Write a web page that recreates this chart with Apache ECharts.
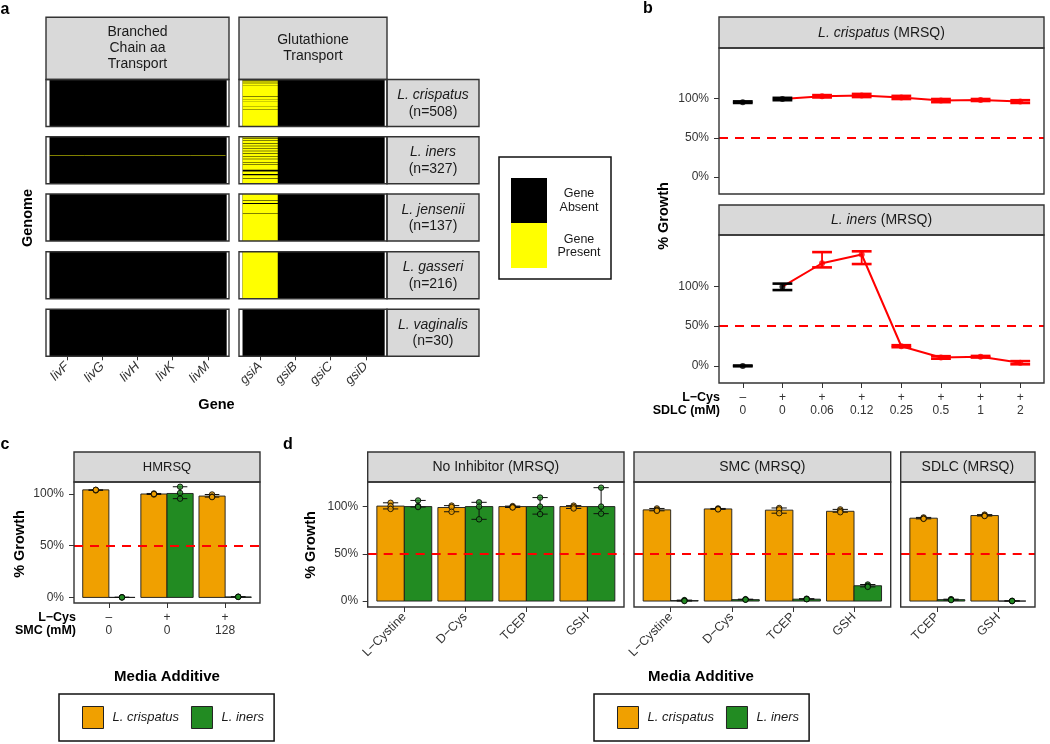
<!DOCTYPE html>
<html><head><meta charset="utf-8">
<script src="https://cdn.jsdelivr.net/npm/echarts@6/dist/echarts.min.js"></script>
<style>html,body{margin:0;padding:0;background:#fff}#c{width:1050px;height:744px}</style>
</head><body><div id="c"></div>
<script>
// ================= DATA =================
// ---- panel a : gene presence heatmap ----
const genes = ['livF','livG','livH','livK','livM','gsiA','gsiB','gsiC','gsiD'];
const geneGroupTitles = ['Branched\nChain aa\nTransport','Glutathione\nTransport'];
const geneGroupSizes = [5, 4];
const speciesNames = ['L. crispatus','L. iners','L. jensenii','L. gasseri','L. vaginalis'];
const speciesN = [508, 327, 137, 216, 30];
// genome index ranges [start, end) where the gene is present (all other genomes: absent)
const livPresentRuns = [[], [[128,129]], [], [], []];
const gsiAPresentRuns = [
  [[0,3],[7,13],[17,24],[28,36],[40,67],[71,183],[190,211],[214,234],[236,287],[289,324],[326,508]],
  [[0,10],[14,26],[30,45],[49,62],[66,78],[82,97],[101,114],[118,133],[137,152],[156,175],[179,192],[196,229],[241,258],[268,288],[291,327]],
  [[0,18],[20,26],[29,57],[58,137]],
  [[0,216]],
  []
];
const gsiBCDPresentRuns = [[], [], [], [], []];

// ---- panel b : SDLC dose response ----
const bLCysLabels = ['–','+','+','+','+','+','+','+'];
const bDoseLabels = ['0','0','0.06','0.12','0.25','0.5','1','2'];
const bPanelSpecies = ['L. crispatus','L. iners'];
const crispatusMean = [95.5, 99.5, 103, 104, 101.5, 97.5, 98.3, 96.2];
const crispatusLo   = [94.5, 98.0, 101.5, 102, 99.5, 95.5, 97.0, 94.5];
const crispatusHi   = [96.5, 101, 104.5, 106, 103.5, 99.5, 99.5, 98.0];
const inersMean = [0, 99.5, 129, 140, 24.7, 10.6, 11.5, 4];
const inersLo   = [-0.5, 95.3, 123.8, 128, 23.5, 9.0, 10.5, 2.0];
const inersHi   = [0.5, 103.4, 143, 144, 26.0, 12.2, 12.5, 6.0];

// ---- panel c : HMRSQ ----
const cLCysLabels = ['–','+','+'];
const cSMCLabels = ['0','0','128'];
const cCrispMean = [104, 100, 98];
const cCrispReps = [[104, 103.5, 104], [100.5, 99.5, 100], [99.5, 97.5, 97]];
const cInersMean = [0, 100.5, 0.5];
const cInersReps = [[0, 0.2, 0], [107, 101, 95.5], [0.5, 0.7, 0.5]];

// ---- panel d : media additives ----
const dPanelTitles = ['No Inhibitor (MRSQ)','SMC (MRSQ)','SDLC (MRSQ)'];
const dAdditives = [['L−Cystine','D−Cys','TCEP','GSH'], ['L−Cystine','D−Cys','TCEP','GSH'], ['TCEP','GSH']];
const dCrispMean = [[100.5, 99, 100, 100], [96.5, 97.5, 96.2, 95], [87.7, 90.5]];
const dCrispReps = [
  [[104, 100.5, 97.5], [101, 99.5, 94.5], [100.5, 99.5, 99], [101, 99.5, 98]],
  [[98, 96.5, 95.5], [98, 97.5, 97], [98.5, 97, 93], [97, 95.5, 94]],
  [[88.5, 87.5, 87], [91.5, 90.5, 90]]
];
const dInersMean = [[100, 100, 100, 100], [0.5, 1.5, 2, 16.2], [1.5, 0]];
const dInersReps = [
  [[106.5, 100.5, 99.5], [104.5, 100, 86.5], [109.5, 100, 92], [120, 100, 92.5]],
  [[1, 0.5, 0], [2, 1.5, 1.5], [2.5, 2, 2], [17.5, 16, 15]],
  [[2, 1.5, 1], [0, 0.3, 0]]
];
const legendNames = ['L. crispatus','L. iners'];

// ================= STYLE / LAYOUT =================
const FONT = '"Liberation Sans", Arial, Helvetica, sans-serif';
const ORANGE = '#F0A000', GREEN = '#228B22', RED = '#FF0000', YELLOW = '#FFFF00';
const BORDER = '#333333', STRIPFILL = '#D9D9D9', AXTXT = '#333333';

const A_COLS = [{left: 46, width: 183}, {left: 239, width: 148}];
const A_ROW_TOPS = [79.5, 136.8, 194, 251.7, 309.3];
const A_ROW_H = 47;
const A_STRIP = {top: 17.3, height: 62.2};
const A_SPECIES_STRIP = {left: 387, width: 92};
const B_GRIDS = [{left: 719, top: 48, width: 325, height: 146}, {left: 719, top: 235, width: 325, height: 148}];
const B_STRIPS = [{top: 17, height: 31}, {top: 205, height: 30}];
const C_GRID = {left: 74, top: 482, width: 186, height: 121};
const D_GRIDS = [{left: 367.7, top: 482, width: 256.3, height: 125}, {left: 634, top: 482, width: 256.7, height: 125}, {left: 900.7, top: 482, width: 134.3, height: 125}];
const CD_STRIP = {top: 452, height: 30};

const grids = [], xAxes = [], yAxes = [], series = [], graphics = [];

function addGrid(r) {
  grids.push({left: r.left, top: r.top, width: r.width, height: r.height, show: false, containLabel: false, outerBoundsMode: 'none'});
  return grids.length - 1;
}
function frame(r) {
  graphics.push({type: 'rect', z: 100, silent: true, shape: {x: r.left, y: r.top, width: r.width, height: r.height},
    style: {fill: 'rgba(0,0,0,0)', stroke: BORDER, lineWidth: 1.4}});
}
function stripBox(x, y, w, h) {
  graphics.push({type: 'rect', z: 90, silent: true, shape: {x: x, y: y, width: w, height: h},
    style: {fill: STRIPFILL, stroke: BORDER, lineWidth: 1.4}});
}
function text(x, y, str, opt) {
  opt = opt || {};
  const st = Object.assign({text: str, fontFamily: FONT, fontSize: 14, fill: '#1A1A1A',
    align: opt.align || 'center', textAlign: opt.align || 'center', verticalAlign: 'middle', textVerticalAlign: 'middle'}, opt.style || {});
  graphics.push({type: 'text', z: 110, silent: true, x: x, y: y, rotation: opt.rotation || 0, style: st});
}
function positions(n) { const a = []; for (let i = 1; i <= n; i++) a.push(i); return a; }
const tickStyle = {lineStyle: {color: BORDER, width: 1}};

// ================= PANEL a =================
function tileRender(params, api) {
  const x = api.value(0), y0 = api.value(1), y1 = api.value(2), present = api.value(3);
  const p0 = api.coord([x - 0.5, y0]), p1 = api.coord([x + 0.5, y1]);
  let h = Math.abs(p1[1] - p0[1]);
  let top = Math.min(p0[1], p1[1]);
  if (present && h < 0.5) { top -= (0.5 - h) / 2; h = 0.5; }
  const w = p1[0] - p0[0];
  return {type: 'rect', shape: {x: p0[0], y: top, width: present ? w : w + 1.2, height: h},
    style: present ? {fill: YELLOW} : {fill: '#000000'}};
}
function presenceRuns(s, gene) {
  if (gene.indexOf('liv') === 0) return livPresentRuns[s];
  if (gene === 'gsiA') return gsiAPresentRuns[s];
  return gsiBCDPresentRuns[s];
}
let geneOffset = 0;
geneGroupSizes.forEach((size, g) => {
  const off = geneOffset;
  speciesNames.forEach((sp, s) => {
    const r = {left: A_COLS[g].left, top: A_ROW_TOPS[s], width: A_COLS[g].width, height: A_ROW_H};
    const gi = addGrid(r);
    const isBottom = s === speciesNames.length - 1;
    xAxes.push({type: 'value', gridIndex: gi, min: 0.4, max: size + 0.6,
      axisLine: {show: false, onZero: false}, splitLine: {show: false},
      axisTick: Object.assign({show: isBottom, customValues: positions(size), length: 4}, tickStyle),
      axisLabel: {show: isBottom, customValues: positions(size), formatter: v => genes[off + Math.round(v) - 1],
        rotate: 45, fontStyle: 'italic', fontSize: 13, color: AXTXT, margin: 8, fontFamily: FONT}});
    yAxes.push({type: 'value', gridIndex: gi, min: 0, max: speciesN[s], inverse: true, show: false});
    const items = [];
    for (let j = size - 1; j >= 0; j--) {
      items.push([j + 1, 0, speciesN[s], 0]);
    }
    for (let j = 0; j < size; j++) {
      presenceRuns(s, genes[off + j]).forEach(run => items.push([j + 1, run[0], run[1], 1]));
    }
    series.push({type: 'custom', xAxisIndex: gi, yAxisIndex: gi, silent: true, renderItem: tileRender,
      encode: {x: 0, y: [1, 2]}, data: items});
    frame(r);
    if (g === geneGroupSizes.length - 1) {
      stripBox(A_SPECIES_STRIP.left, r.top, A_SPECIES_STRIP.width, r.height);
      text(A_SPECIES_STRIP.left + A_SPECIES_STRIP.width / 2, r.top + r.height / 2 + 0.5,
        '{i|' + sp + '}\n{n|(n=' + speciesN[s] + ')}',
        {style: {rich: {i: {fontStyle: 'italic', fontSize: 14, fontFamily: FONT, fill: '#1A1A1A', lineHeight: 16.5},
                        n: {fontSize: 14, fontFamily: FONT, fill: '#1A1A1A', lineHeight: 16.5}}}});
    }
  });
  stripBox(A_COLS[g].left, A_STRIP.top, A_COLS[g].width, A_STRIP.height);
  text(A_COLS[g].left + A_COLS[g].width / 2, A_STRIP.top + A_STRIP.height / 2, geneGroupTitles[g], {style: {lineHeight: 16}});
  geneOffset += size;
});
text(28, 218, 'Genome', {rotation: Math.PI / 2, style: {fontWeight: 'bold', fontSize: 14.5, fill: '#000'}});
text(216.5, 405, 'Gene', {style: {fontWeight: 'bold', fontSize: 14.5, fill: '#000'}});
// legend of panel a
graphics.push({type: 'rect', z: 100, silent: true, shape: {x: 499, y: 157, width: 112, height: 122}, style: {fill: '#fff', stroke: '#111', lineWidth: 1.5}});
graphics.push({type: 'rect', z: 101, silent: true, shape: {x: 511, y: 178, width: 36, height: 45}, style: {fill: '#000'}});
graphics.push({type: 'rect', z: 101, silent: true, shape: {x: 511, y: 223, width: 36, height: 45}, style: {fill: YELLOW}});
text(579, 200.5, 'Gene\nAbsent', {style: {fontSize: 12.5, lineHeight: 13.5}});
text(579, 246, 'Gene\nPresent', {style: {fontSize: 12.5, lineHeight: 13.5}});

// ================= PANEL b =================
function errorBarRender(halfWidthUnits, lineWidth, capWidth, colorFn) {
  return function (params, api) {
    const x = api.value(0), lo = api.value(1), hi = api.value(2);
    const color = colorFn(api.value(3));
    const pl = api.coord([x, lo]), ph = api.coord([x, hi]);
    const w = api.size([halfWidthUnits, 0])[0];
    const st = {stroke: color, lineWidth: lineWidth};
    const cs = {stroke: color, lineWidth: capWidth};
    return {type: 'group', children: [
      {type: 'line', shape: {x1: pl[0], y1: pl[1], x2: ph[0], y2: ph[1]}, style: st},
      {type: 'line', shape: {x1: pl[0] - w, y1: pl[1], x2: pl[0] + w, y2: pl[1]}, style: cs},
      {type: 'line', shape: {x1: ph[0] - w, y1: ph[1], x2: ph[0] + w, y2: ph[1]}, style: cs}
    ]};
  };
}
const dashLine = {silent: true, symbol: ['none', 'none'], label: {show: false}, emphasis: {disabled: true},
  lineStyle: {color: RED, type: [9, 7], width: 2.2}, data: [{yAxis: 50}]};

const bMeans = [crispatusMean, inersMean], bLos = [crispatusLo, inersLo], bHis = [crispatusHi, inersHi];
B_GRIDS.forEach((r, p) => {
  const gi = addGrid(r);
  const isBottom = p === B_GRIDS.length - 1;
  const n = bDoseLabels.length;
  xAxes.push({type: 'value', gridIndex: gi, min: 0.4, max: n + 0.6,
    axisLine: {show: false, onZero: false}, splitLine: {show: false},
    axisTick: Object.assign({show: isBottom, customValues: positions(n), length: 5}, tickStyle),
    axisLabel: {show: isBottom, customValues: positions(n), fontFamily: FONT, fontSize: 12, color: AXTXT, lineHeight: 13, margin: 8.5,
      formatter: v => { const i = Math.round(v) - 1; return bLCysLabels[i] + '\n' + bDoseLabels[i]; }}});
  yAxes.push({type: 'value', gridIndex: gi, min: -21.5, max: 164.5,
    axisLine: {show: false, onZero: false}, splitLine: {show: false},
    axisTick: Object.assign({show: true, customValues: [0, 50, 100], length: 5}, tickStyle),
    axisLabel: {customValues: [0, 50, 100], formatter: v => v + '%', fontFamily: FONT, fontSize: 12, color: AXTXT, margin: 10}});
  const mean = bMeans[p], lo = bLos[p], hi = bHis[p];
  const treated = bDoseLabels.map(d => d !== '0');
  series.push({type: 'line', xAxisIndex: gi, yAxisIndex: gi, silent: true, z: 2, showSymbol: false,
    lineStyle: {color: RED, width: 2}, itemStyle: {color: RED},
    data: mean.map((m, i) => [i + 1, m]).filter((d, i) => bLCysLabels[i] === '+'),
    markLine: dashLine});
  series.push({type: 'custom', xAxisIndex: gi, yAxisIndex: gi, silent: true, z: 3,
    renderItem: errorBarRender(0.25, 1.8, 2.6, t => t ? RED : '#000'),
    encode: {x: 0, y: [1, 2]}, data: mean.map((m, i) => [i + 1, lo[i], hi[i], treated[i] ? 1 : 0])});
  series.push({type: 'scatter', xAxisIndex: gi, yAxisIndex: gi, silent: true, z: 4, symbolSize: 6,
    data: mean.map((m, i) => ({value: [i + 1, m], itemStyle: {color: treated[i] ? RED : '#000'}}))});
  frame(r);
  stripBox(r.left, B_STRIPS[p].top, r.width, B_STRIPS[p].height);
  text(r.left + r.width / 2, B_STRIPS[p].top + B_STRIPS[p].height / 2 + 0.5,
    '{i|' + bPanelSpecies[p] + '}{n| (MRSQ)}',
    {style: {rich: {i: {fontStyle: 'italic', fontSize: 14, fontFamily: FONT, fill: '#1A1A1A'}, n: {fontSize: 14, fontFamily: FONT, fill: '#1A1A1A'}}}});
});
text(720, 398, 'L−Cys', {align: 'right', style: {fontWeight: 'bold', fontSize: 12.5, fill: '#000'}});
text(720, 411, 'SDLC (mM)', {align: 'right', style: {fontWeight: 'bold', fontSize: 12.5, fill: '#000'}});
text(664, 216, '% Growth', {rotation: Math.PI / 2, style: {fontWeight: 'bold', fontSize: 14.5, fill: '#000'}});

// ================= PANELS c & d (bars) =================
const DODGE = 0.225;
function barRender(offset, color) {
  return function (params, api) {
    const x = api.value(0), v = api.value(1);
    const p0 = api.coord([x + offset - DODGE, 0]), p1 = api.coord([x + offset + DODGE, v]);
    return {type: 'rect', shape: {x: p0[0], y: Math.min(p0[1], p1[1]), width: p1[0] - p0[0], height: Math.abs(p0[1] - p1[1])},
      style: {fill: color, stroke: '#1A1A1A', lineWidth: 0.9}};
  };
}
function barPanel(gi, crispMean, crispReps, inersM, inersReps) {
  const sets = [[legendNames[0], crispMean, crispReps, -DODGE, ORANGE], [legendNames[1], inersM, inersReps, DODGE, GREEN]];
  sets.forEach((st, k) => {
    const [name, means, reps, off, color] = st;
    series.push({type: 'custom', name: name, xAxisIndex: gi, yAxisIndex: gi, silent: true, z: 2,
      itemStyle: {color: color}, renderItem: barRender(off, color), encode: {x: 0, y: 1},
      data: means.map((m, i) => [i + 1, m])});
    series.push({type: 'custom', name: name + ' sd', xAxisIndex: gi, yAxisIndex: gi, silent: true, z: 3,
      renderItem: errorBarRender(0.125, 1, 1, () => '#111'), encode: {x: 0, y: [1, 2]},
      data: reps.map((rs, i) => [i + 1 + off, Math.min.apply(null, rs), Math.max.apply(null, rs), 0])});
    const pts = [];
    reps.forEach((rs, i) => rs.forEach(v => pts.push([i + 1 + off, v])));
    const sc = {type: 'scatter', name: name + ' replicate', xAxisIndex: gi, yAxisIndex: gi, silent: true, z: 4, symbolSize: 5.5,
      itemStyle: {color: color, borderColor: '#000', borderWidth: 1}, data: pts};
    if (k === 0) sc.markLine = dashLine;
    series.push(sc);
  });
}
// panel c
(function () {
  const gi = addGrid(C_GRID);
  const n = cLCysLabels.length;
  xAxes.push({type: 'value', gridIndex: gi, min: 0.4, max: n + 0.6,
    axisLine: {show: false, onZero: false}, splitLine: {show: false},
    axisTick: Object.assign({customValues: positions(n), length: 5}, tickStyle),
    axisLabel: {customValues: positions(n), fontFamily: FONT, fontSize: 12, color: AXTXT, lineHeight: 13.4, margin: 7.6,
      formatter: v => { const i = Math.round(v) - 1; return cLCysLabels[i] + '\n' + cSMCLabels[i]; }}});
  yAxes.push({type: 'value', gridIndex: gi, min: -5.4, max: 111.6,
    axisLine: {show: false, onZero: false}, splitLine: {show: false},
    axisTick: Object.assign({customValues: [0, 50, 100], length: 5}, tickStyle),
    axisLabel: {customValues: [0, 50, 100], formatter: v => v + '%', fontFamily: FONT, fontSize: 12, color: AXTXT, margin: 10}});
  barPanel(gi, cCrispMean, cCrispReps, cInersMean, cInersReps);
  frame(C_GRID);
  stripBox(C_GRID.left, CD_STRIP.top, C_GRID.width, CD_STRIP.height);
  text(C_GRID.left + C_GRID.width / 2, CD_STRIP.top + CD_STRIP.height / 2 + 0.5, 'HMRSQ', {style: {fontSize: 13}});
  text(76, 617.3, 'L−Cys', {align: 'right', style: {fontWeight: 'bold', fontSize: 12.5, fill: '#000'}});
  text(76, 630.7, 'SMC (mM)', {align: 'right', style: {fontWeight: 'bold', fontSize: 12.5, fill: '#000'}});
  text(20, 544, '% Growth', {rotation: Math.PI / 2, style: {fontWeight: 'bold', fontSize: 14.5, fill: '#000'}});
  text(167, 677, 'Media Additive', {style: {fontWeight: 'bold', fontSize: 15, fill: '#000'}});
})();
// panel d
D_GRIDS.forEach((r, p) => {
  const gi = addGrid(r);
  const labels = dAdditives[p];
  const n = labels.length;
  xAxes.push({type: 'value', gridIndex: gi, min: 0.4, max: n + 0.6,
    axisLine: {show: false, onZero: false}, splitLine: {show: false},
    axisTick: Object.assign({customValues: positions(n), length: 5}, tickStyle),
    axisLabel: {customValues: positions(n), fontFamily: FONT, fontSize: 12.5, color: AXTXT, rotate: 45, margin: 8,
      formatter: v => labels[Math.round(v) - 1]}});
  yAxes.push({type: 'value', gridIndex: gi, min: -6.3, max: 126,
    axisLine: {show: false, onZero: false}, splitLine: {show: false},
    axisTick: Object.assign({show: p === 0, customValues: [0, 50, 100], length: 5}, tickStyle),
    axisLabel: {show: p === 0, customValues: [0, 50, 100], formatter: v => v + '%', fontFamily: FONT, fontSize: 12, color: AXTXT, margin: 9.5}});
  barPanel(gi, dCrispMean[p], dCrispReps[p], dInersMean[p], dInersReps[p]);
  frame(r);
  stripBox(r.left, CD_STRIP.top, r.width, CD_STRIP.height);
  text(r.left + r.width / 2, CD_STRIP.top + CD_STRIP.height / 2 + 0.5, dPanelTitles[p], {style: {fontSize: 14}});
});
text(311, 545, '% Growth', {rotation: Math.PI / 2, style: {fontWeight: 'bold', fontSize: 14.5, fill: '#000'}});
text(701, 677, 'Media Additive', {style: {fontWeight: 'bold', fontSize: 15, fill: '#000'}});

// panel letters
[['a', 5, 10], ['b', 648, 9], ['c', 5, 445], ['d', 288, 445]].forEach(l =>
  text(l[1], l[2], l[0], {style: {fontWeight: 'bold', fontSize: 16, fill: '#000'}}));

// legends for c and d
function legendFor(left) {
  return {left: left, top: 694, orient: 'horizontal', selectedMode: false,
    padding: [12, 10, 12, 23], itemWidth: 21, itemHeight: 22, itemGap: 12,
    borderColor: '#111', borderWidth: 1.5, borderRadius: 0, backgroundColor: '#fff',
    textStyle: {fontStyle: 'italic', fontSize: 13, color: '#1A1A1A', fontFamily: FONT, padding: [0, 0, 0, 4]},
    data: [
      {name: legendNames[0], icon: 'rect', itemStyle: {color: ORANGE, borderColor: '#222', borderWidth: 1}},
      {name: legendNames[1], icon: 'rect', itemStyle: {color: GREEN, borderColor: '#222', borderWidth: 1}}
    ]};
}

const chart = echarts.init(document.getElementById('c'), null, {renderer: 'canvas'});
chart.setOption({
  animation: false,
  backgroundColor: '#ffffff',
  textStyle: {fontFamily: FONT},
  grid: grids, xAxis: xAxes, yAxis: yAxes, series: series,
  legend: [legendFor(59), legendFor(594)],
  graphic: {elements: graphics}
});
</script></body></html>
